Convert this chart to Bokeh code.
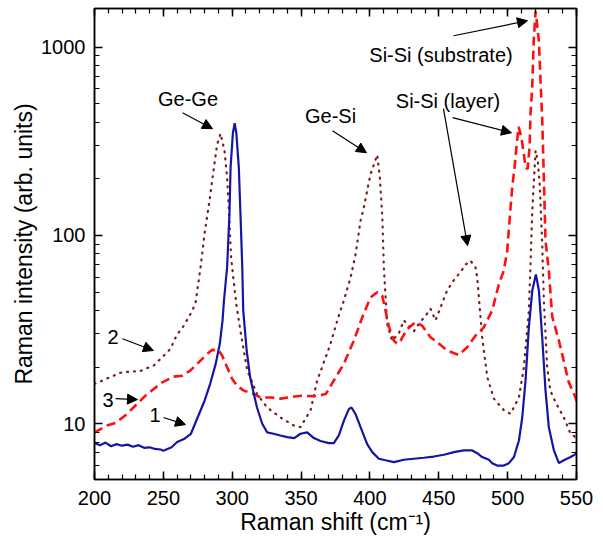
from bokeh.plotting import figure
from bokeh.models import LinearAxis, LogAxis, FixedTicker, Label, Arrow, NormalHead, PrintfTickFormatter
from bokeh.embed import file_html
from bokeh.resources import INLINE

# ---- data ----
# curve 1 (blue, solid)
x1 = [200, 204, 208, 212, 216, 220, 224, 228, 232, 236, 240, 244, 248, 250, 253, 256, 260, 265, 270, 273,
      276, 280, 284, 288, 291, 293, 294, 296.3, 298, 298.8, 300.5, 301.8, 303, 304.8, 306, 307.3, 308, 310.5,
      313, 315.7, 318, 321.8, 325.4, 330, 335, 340, 345, 349.6, 354.4, 359.3, 364.1, 370.2, 373.8, 377.5,
      381.1, 384.8, 386.6, 389.5, 393.2, 398, 401.7, 406.5, 411.3, 417.4, 424.6, 431.9, 439.1, 446.4, 453.7,
      461, 468.2, 474.3, 477.9, 481.5, 486.4, 488.8, 492.4, 497.3, 500.9, 504.6, 508.2, 510.6, 513, 515.4,
      517.9, 520.5, 522.7, 525.1, 527.5, 529.9, 533.6, 537.2, 540.8, 545.7, 549.3, 550]
y1 = [7.9, 7.7, 7.95, 7.6, 7.8, 7.65, 7.75, 7.55, 7.7, 7.45, 7.5, 7.35, 7.3, 7.2, 7.35, 7.5, 8.0, 8.3, 8.85, 10.0,
      11.3, 13.3, 16.3, 20.8, 26.6, 35.5, 45, 68, 130, 229, 350, 395, 350, 229, 130, 68, 40, 24.5,
      17.7, 14.4, 12.2, 10.0, 9.0, 8.85, 8.67, 8.5, 8.4, 8.85, 9.0, 8.4, 8.1, 7.9, 7.9, 8.7,
      10.4, 12.0, 12.2, 11.3, 9.6, 7.8, 7.07, 6.52, 6.4, 6.26, 6.44, 6.52, 6.6, 6.7, 6.85,
      7.07, 7.22, 7.22, 6.98, 6.66, 6.44, 6.18, 6.0, 6.0, 6.18, 6.66, 8.15, 10.8, 17.0, 32.5,
      51, 62, 51, 28.8, 15.0, 9.6, 7.22, 6.18, 6.4, 6.66, 6.9, 7.0]

# curve 2 (dark red, dotted)
x2 = [200, 203.1, 208, 212.8, 217.7, 222.5, 227.4, 232.2, 237, 243, 247.9, 251.6, 255.2, 259.5, 264.9, 269.7,
      273.3, 277, 279.9, 283.5, 286.7, 289, 291.5, 294.4, 296.3, 297.5, 299.2, 303, 306, 310.9, 318, 325.4,
      335, 344.7, 349.6, 356.9, 361.7, 365.3, 371.4, 376.3, 381, 386, 389.6, 393.2, 395.6, 398, 400.4, 405.3,
      407.2, 409, 410.1, 412.5, 416, 421, 424.6, 431.9, 435.6, 440.4, 444, 447.6, 451.3, 456, 461, 465.8,
      469.4, 473, 476.7, 477.9, 481.5, 485.2, 490, 497.3, 502.1, 508.2, 511.8, 515.4, 516.6, 517.8, 519,
      520.3, 521.9, 523.4, 524.2, 525.1, 526.3, 528.7, 531, 534.8, 540.8, 545.7, 549.3, 550]
y2 = [16.3, 16.6, 17.3, 17.8, 18.6, 18.8, 19.0, 18.9, 19.6, 20.4, 22.1, 23.5, 25, 29.4, 33.2, 38.3,
      43.4, 67.6, 102, 153, 229, 303, 348, 282, 203, 141, 76, 43, 31, 19.2, 14.4, 12.2,
      10.8, 9.8, 9.6, 11.8, 17, 20, 26.6, 35.4, 45, 60, 79.6, 120, 141, 173, 211, 268,
      203, 125, 67.6, 34, 27.6, 30.2, 35.4, 31, 34, 37.5, 40.8, 35.4, 41.5, 51, 58, 64,
      70, 73.5, 67.6, 60, 28.8, 17.7, 13.6, 11.8, 11.3, 13.8, 20, 40, 70, 130, 190,
      282, 248, 181, 130, 90, 45, 20, 15, 13, 10.8, 8.85, 8.5, 8.4]

# curve 3 (red, dashed)
x3 = [200, 209.2, 215.2, 222.5, 229.8, 237, 243, 249.2, 257.6, 263.7, 269.7, 275.7, 281.8, 285.5, 290.3, 292.7,
      296.3, 300, 303.6, 308.4, 315.7, 320.6, 327.8, 335.1, 341.1, 350, 360, 368, 373.8, 381, 388.3, 394.4,
      400.4, 405.3, 408.9, 411.3, 413.7, 417.4, 419.8, 422.2, 427, 433.1, 437.9, 444, 448.8, 456.1, 464.6,
      470.6, 476.7, 482.7, 488.8, 493.6, 497.2, 499.7, 502.1, 503.3, 505, 506.5, 508, 510, 511.5, 513, 514.5,
      516, 516.6, 517.8, 519, 520.3, 521.5, 522.7, 523.9, 525.1, 526.3, 527.5, 529.9, 532.4, 537.2, 544.4,
      549.3, 550]
y3 = [9.0, 9.8, 10.1, 11.1, 12.5, 14.1, 15.3, 16.6, 17.8, 18.0, 19.2, 21.2, 23.5, 24.7, 24.5, 23.0,
      19.96, 17.3, 15.9, 15.0, 14.4, 13.8, 13.8, 13.6, 13.8, 14.1, 14.0, 14.4, 17, 20.8, 27.6, 36.7,
      46.8, 50, 48, 40, 33, 27.6, 26.6, 27.6, 31.8, 34.6, 33.2, 28.8, 27.1, 24.5, 23.2,
      25.5, 29.4, 32.5, 40, 55, 65, 83, 140, 179, 230, 300, 378, 330, 280, 230, 225,
      300, 444, 600, 1100, 1550, 1300, 1067, 662, 417, 200, 94, 65, 37, 27.7, 16.6,
      13.8, 13.2]

x_ticks = [200, 250, 300, 350, 400, 450, 500, 550]
x_minor = list(range(200, 551, 10))
y_ticks = [10, 100, 1000]
y_minor = [6, 7, 8, 9, 20, 30, 40, 50, 60, 70, 80, 90, 200, 300, 400, 500, 600, 700, 800, 900]

FONT = "Liberation Sans"

p = figure(width=603, height=548, x_range=(200, 550), y_range=(5.06, 1604),
           y_axis_type="log", output_backend="svg", toolbar_location=None,
           min_border_left=94, min_border_right=27, min_border_top=8, min_border_bottom=69,
           background_fill_color="white", border_fill_color="white")
p.grid.visible = False
p.outline_line_color = "black"
p.outline_line_width = 1.5


def style_axis(ax, labels=True):
    ax.axis_line_color = "black"
    ax.axis_line_width = 1.5
    ax.major_tick_in = 8
    ax.major_tick_out = 0
    ax.minor_tick_in = 5
    ax.minor_tick_out = 0
    ax.major_tick_line_width = 1.5
    ax.minor_tick_line_width = 1.2
    ax.major_tick_line_color = "black"
    ax.minor_tick_line_color = "black"
    ax.major_label_text_font = FONT
    ax.axis_label_text_font = FONT
    ax.axis_label_text_font_style = "normal"
    ax.axis_label_text_color = "black"
    if labels:
        ax.major_label_text_color = "black"
        ax.major_label_text_font_size = "20px"
        ax.axis_label_text_font_size = "23px"
    else:
        ax.major_label_text_color = None
        ax.major_label_text_font_size = "2px"
        ax.major_label_standoff = 0


xa = p.xaxis[0]
xa.ticker = FixedTicker(ticks=x_ticks, minor_ticks=x_minor)
style_axis(xa)
xa.axis_label = "Raman shift (cm\u207b\u00b9)"
xa.major_label_standoff = 11
xa.axis_label_standoff = 1

ya = p.yaxis[0]
ya.ticker = FixedTicker(ticks=y_ticks, minor_ticks=y_minor)
ya.formatter = PrintfTickFormatter(format="%d")
style_axis(ya)
ya.axis_label = "Raman intensity (arb. units)"
ya.major_label_standoff = 9
ya.axis_label_standoff = 1

top = LinearAxis(ticker=FixedTicker(ticks=x_ticks, minor_ticks=x_minor))
style_axis(top, labels=False)
p.add_layout(top, "above")
right = LogAxis(ticker=FixedTicker(ticks=y_ticks, minor_ticks=y_minor))
style_axis(right, labels=False)
p.add_layout(right, "right")

# curves
p.line(x2, y2, line_color="#7a1c1c", line_width=2.2, line_dash="1 6", line_cap="round")
p.line(x3, y3, line_color="#ff1010", line_width=2.6, line_dash="9 5")
p.line(x1, y1, line_color="#1515a3", line_width=2.2)


# annotations
def label(x, y, t):
    p.add_layout(Label(x=x, y=y, text=t, text_font=FONT, text_font_size="20px",
                       text_align="center", text_baseline="middle", text_color="black"))


def arrow(xs, ys, xe, ye):
    p.add_layout(Arrow(end=NormalHead(size=10, fill_color="black", line_color="black", line_width=1),
                       x_start=xs, y_start=ys, x_end=xe, y_end=ye,
                       line_color="black", line_width=1.2))


label(267.9, 532, "Ge-Ge")
arrow(263.9, 448, 285.7, 369)
label(371.4, 429, "Ge-Si")
arrow(372.8, 360, 397.5, 275)
label(456.7, 519, "Si-Si (layer)")
arrow(460, 422, 502.8, 351)
arrow(453.4, 471, 470.9, 88.3)
label(451.6, 910, "Si-Si (substrate)")
arrow(460.7, 1149, 514.4, 1381)
label(213.4, 28.9, "2")
arrow(220.3, 28.3, 242.8, 24.5)
label(209.8, 13.4, "3")
arrow(215.3, 13.6, 231.2, 13.45)
label(243.9, 11.1, "1")
arrow(250.1, 10.8, 266.1, 9.9)

open("out.html", "w").write(file_html(p, INLINE))
